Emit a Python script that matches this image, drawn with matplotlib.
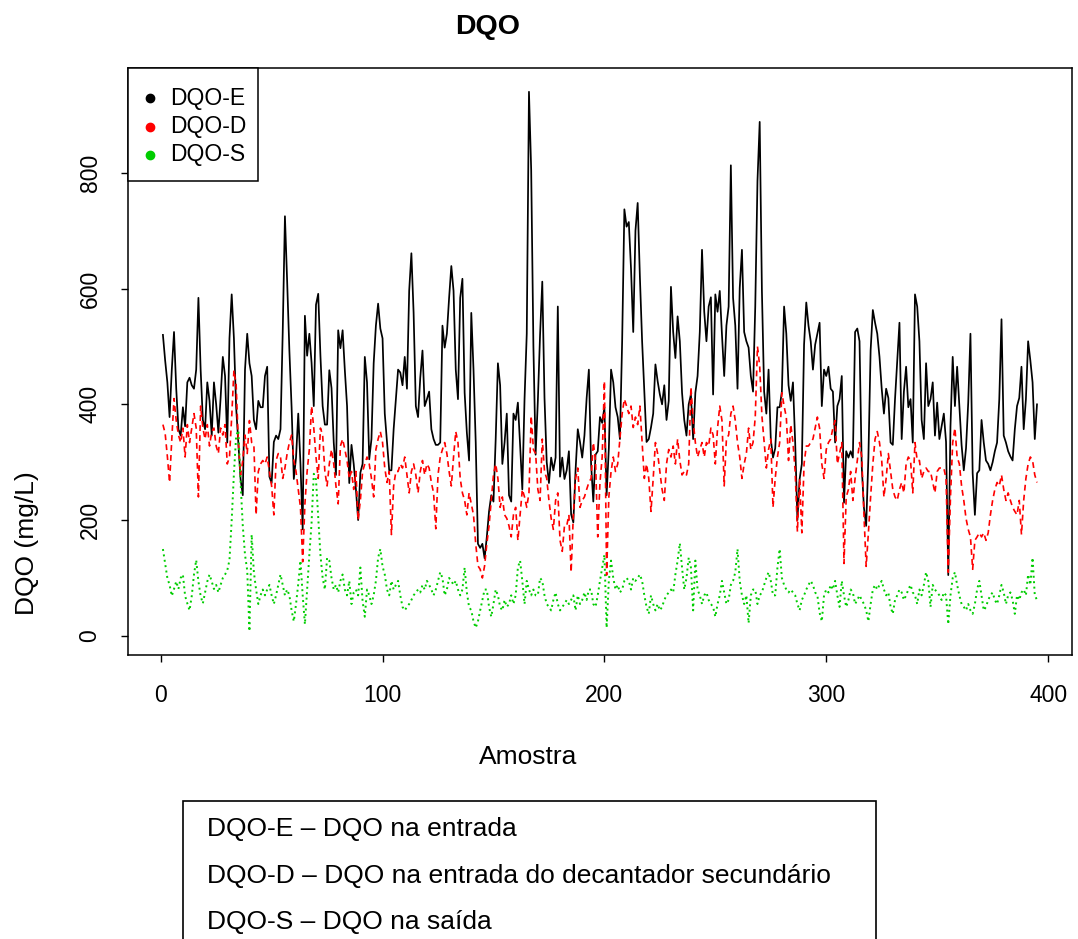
import matplotlib
matplotlib.use('Agg')
import matplotlib.pyplot as plt
from matplotlib.patches import Rectangle
import numpy as np

plt.rcParams['font.family'] = ['Liberation Sans', 'DejaVu Sans']

# DQO na entrada (DQO-E)
dqo_e = [
    520, 476, 438, 378, 460, 525, 427, 357, 346, 395,
    362, 438, 446, 433, 427, 460, 584, 460, 373, 357,
    438, 406, 346, 438, 400, 351, 411, 482, 449, 334,
    514, 590, 514, 395, 334, 271, 243, 460, 522, 471,
    449, 373, 357, 406, 395, 395, 449, 465, 275, 264,
    335, 346, 340, 357, 525, 725, 612, 493, 395, 271,
    308, 384, 297, 184, 553, 484, 522, 472, 397, 572,
    591, 484, 397, 365, 365, 459, 428, 334, 278, 528,
    497, 528, 459, 397, 264, 330, 297, 253, 200, 282,
    297, 482, 438, 305, 340, 471, 536, 574, 531, 514,
    384, 334, 286, 286, 357, 409, 460, 455, 433, 482,
    427, 596, 661, 558, 397, 378, 446, 493, 397, 409,
    422, 357, 340, 330, 330, 334, 536, 498, 522, 584,
    639, 596, 460, 409, 584, 617, 420, 351, 303, 558,
    460, 334, 159, 152, 159, 134, 171, 215, 243, 232,
    340, 471, 433, 297, 334, 384, 243, 232, 384, 373,
    403, 330, 253, 409, 522, 940, 805, 500, 313, 406,
    520, 612, 411, 300, 264, 308, 286, 308, 569, 275,
    308, 271, 286, 319, 210, 196, 286, 357, 335, 308,
    346, 411, 460, 297, 232, 313, 319, 378, 368, 395,
    243, 324, 460, 438, 395, 378, 340, 509, 737, 707,
    715, 634, 525, 700, 748, 620, 509, 420, 335, 340,
    360, 384, 469, 440, 417, 400, 433, 373, 406, 603,
    525, 480, 552, 509, 420, 373, 346, 400, 417, 340,
    420, 449, 525, 667, 560, 509, 569, 585, 417, 590,
    560, 596, 520, 449, 536, 569, 813, 584, 536, 427,
    601, 667, 525, 509, 498, 449, 422, 569, 786, 888,
    596, 422, 384, 460, 340, 308, 324, 395, 395, 422,
    569, 522, 433, 406, 438, 334, 200, 271, 297, 503,
    576, 536, 509, 460, 503, 522, 541, 397, 460, 449,
    465, 427, 422, 334, 397, 409, 449, 230, 319, 308,
    319, 308, 525, 531, 509, 292, 221, 190, 308, 493,
    563, 541, 522, 482, 427, 384, 427, 411, 334, 330,
    409, 476, 541, 340, 422, 465, 395, 409, 334, 590,
    569, 509, 373, 340, 471, 397, 409, 438, 346, 403,
    340, 362, 384, 335, 105, 362, 482, 397, 465, 397,
    330, 286, 324, 403, 522, 281, 209, 281, 286, 373,
    334, 303, 297, 286, 300, 319, 334, 409, 547, 346,
    334, 319, 310, 303, 357, 397, 411, 465, 357, 409,
    509, 476, 438, 340, 400,
]

# DQO na entrada do decantador secundario (DQO-D)
dqo_d = [
    365, 350, 310, 265, 340, 410, 372, 347, 334, 359,
    309, 365, 334, 359, 384, 359, 240, 397, 359, 340,
    365, 328, 353, 359, 328, 315, 359, 347, 365, 297,
    309, 378, 459, 434, 334, 278, 303, 347, 315, 372,
    334, 330, 209, 284, 297, 303, 297, 309, 284, 259,
    209, 303, 315, 309, 272, 290, 315, 334, 347, 303,
    284, 253, 222, 128, 228, 284, 322, 397, 359, 309,
    272, 359, 347, 284, 259, 297, 322, 297, 259, 228,
    328, 340, 322, 303, 272, 284, 253, 284, 200, 234,
    284, 297, 309, 297, 272, 240, 322, 340, 353, 334,
    290, 265, 284, 175, 259, 284, 284, 297, 290, 309,
    278, 247, 284, 297, 278, 247, 284, 303, 278, 297,
    290, 265, 247, 185, 278, 309, 322, 334, 315, 284,
    259, 309, 353, 334, 272, 247, 234, 209, 247, 228,
    209, 159, 121, 115, 100, 121, 159, 190, 234, 278,
    297, 272, 222, 240, 209, 203, 190, 171, 209, 222,
    165, 209, 253, 240, 222, 247, 380, 322, 315, 253,
    234, 340, 284, 272, 234, 203, 184, 234, 247, 165,
    146, 190, 190, 209, 110, 209, 272, 290, 222, 234,
    240, 253, 265, 272, 334, 303, 171, 265, 309, 440,
    105, 240, 284, 309, 284, 297, 340, 384, 409, 397,
    384, 397, 360, 378, 365, 397, 334, 272, 297, 272,
    215, 272, 334, 315, 284, 253, 234, 297, 322, 309,
    328, 297, 340, 303, 278, 284, 278, 297, 430, 372,
    334, 309, 322, 334, 309, 334, 328, 359, 347, 297,
    359, 397, 372, 259, 340, 347, 384, 397, 372, 334,
    309, 272, 297, 315, 359, 322, 334, 378, 500, 466,
    380, 334, 290, 322, 340, 222, 272, 309, 334, 420,
    397, 378, 303, 365, 334, 284, 180, 272, 178, 297,
    328, 328, 334, 340, 359, 378, 359, 297, 272, 322,
    334, 340, 359, 372, 297, 315, 334, 125, 240, 253,
    284, 234, 272, 303, 334, 309, 209, 120, 178, 240,
    297, 340, 353, 334, 303, 240, 272, 315, 284, 253,
    240, 234, 253, 265, 247, 297, 309, 303, 247, 334,
    303, 303, 272, 284, 290, 284, 284, 265, 247, 284,
    290, 290, 290, 272, 110, 240, 334, 359, 309, 297,
    259, 234, 203, 184, 171, 115, 165, 171, 178, 171,
    178, 165, 178, 209, 234, 253, 265, 259, 278, 253,
    234, 247, 234, 222, 215, 209, 234, 175, 234, 272,
    297, 309, 303, 278, 265,
]

# DQO na saida (DQO-S)
dqo_s = [
    150, 125, 100, 88, 69, 81, 94, 81, 100, 106,
    69, 56, 44, 69, 106, 131, 94, 69, 56, 75,
    94, 106, 94, 81, 88, 75, 88, 100, 106, 113,
    131, 200, 280, 345, 355, 265, 190, 140, 113, 8,
    175, 110, 80, 55, 70, 80, 70, 80, 88, 70,
    55, 70, 88, 106, 88, 70, 80, 70, 44, 25,
    55, 90, 130, 70, 20, 80, 140, 195, 280, 270,
    205, 140, 100, 80, 135, 130, 100, 80, 88, 75,
    95, 106, 80, 70, 95, 55, 75, 80, 70, 118,
    60, 33, 80, 70, 55, 70, 95, 135, 150, 120,
    106, 80, 70, 95, 80, 88, 95, 70, 50, 44,
    50, 55, 62, 70, 75, 80, 75, 88, 80, 95,
    88, 80, 70, 80, 95, 110, 100, 70, 80, 100,
    95, 88, 95, 80, 70, 80, 118, 75, 50, 44,
    25, 14, 25, 44, 62, 80, 80, 50, 33, 55,
    80, 70, 50, 44, 62, 50, 55, 70, 55, 70,
    118, 130, 95, 55, 95, 80, 70, 80, 70, 70,
    100, 95, 70, 55, 50, 44, 62, 75, 55, 44,
    50, 55, 62, 55, 62, 70, 44, 70, 55, 62,
    75, 62, 80, 80, 55, 50, 70, 95, 118, 140,
    14, 95, 130, 100, 80, 88, 75, 80, 95, 100,
    95, 80, 100, 95, 100, 106, 95, 70, 50, 38,
    70, 55, 44, 55, 44, 50, 62, 70, 75, 80,
    75, 106, 130, 160, 118, 80, 100, 135, 118, 44,
    130, 80, 70, 55, 70, 75, 62, 55, 50, 33,
    55, 70, 95, 75, 55, 62, 88, 95, 110, 150,
    95, 70, 55, 70, 22, 70, 80, 80, 55, 70,
    75, 88, 100, 110, 95, 70, 70, 118, 150, 100,
    88, 80, 75, 80, 75, 70, 55, 44, 62, 70,
    80, 88, 95, 88, 75, 70, 40, 25, 70, 80,
    75, 88, 80, 95, 70, 50, 95, 70, 50, 62,
    80, 75, 55, 62, 70, 62, 55, 44, 25, 55,
    80, 88, 80, 88, 95, 80, 70, 75, 50, 38,
    62, 70, 80, 75, 62, 70, 80, 88, 75, 70,
    55, 80, 70, 88, 110, 95, 50, 88, 80, 75,
    70, 62, 75, 70, 20, 70, 100, 110, 88, 70,
    55, 50, 44, 55, 44, 38, 55, 80, 95, 70,
    44, 50, 62, 70, 75, 62, 55, 70, 88, 75,
    55, 70, 75, 62, 38, 70, 62, 75, 80, 70,
    106, 88, 135, 70, 62,
]

series_labels = ['DQO-E', 'DQO-D', 'DQO-S']
series_colors = ['black', '#FF0000', '#00CD00']
note_lines = ['DQO-E \u2013 DQO na entrada',
              'DQO-D \u2013 DQO na entrada do decantador secund\u00e1rio',
              'DQO-S \u2013 DQO na sa\u00edda']

W, H = 1078, 939
fig = plt.figure(figsize=(W / 100, H / 100), dpi=100)
ax = fig.add_axes([0.1187, 0.3025, 0.8757, 0.625])

x_e = np.arange(1, len(dqo_e) + 1)
x_d = np.arange(1, len(dqo_d) + 1)
x_s = np.arange(1, len(dqo_s) + 1)

ax.plot(x_e, dqo_e, color=series_colors[0], linewidth=1.25, linestyle='-')
ax.plot(x_d, dqo_d, color=series_colors[1], linewidth=1.2, linestyle=(0, (3.5, 2.5)))
ax.plot(x_s, dqo_s, color=series_colors[2], linewidth=1.4, linestyle=(0, (1, 1.8)))

n = len(dqo_e)
ax.set_xlim(1 - 0.04 * (n - 1), n + 0.04 * (n - 1))
ax.set_ylim(-33, 981)
ax.set_xticks([0, 100, 200, 300, 400])
ax.set_yticks([0, 200, 400, 600, 800])
ax.set_yticklabels(['0', '200', '400', '600', '800'], rotation=90, va='center')

ax.tick_params(direction='out', length=5, width=1, labelsize=16.5, colors='black')
ax.tick_params(axis='x', pad=16)
ax.tick_params(axis='y', pad=14)
for sp in ax.spines.values():
    sp.set_linewidth(1.1)

# legend box drawn by hand (pixel positions of the reference)
leg_box = Rectangle((128 / W, 1 - 181 / H), (258 - 128) / W, (181 - 68) / H,
                    transform=fig.transFigure, facecolor='white', edgecolor='black',
                    linewidth=1.1, zorder=5)
fig.add_artist(leg_box)
for i, (lab, col) in enumerate(zip(series_labels, series_colors)):
    yy = 1 - (98 + 28.5 * i) / H
    fig.add_artist(plt.Line2D([150 / W], [yy], marker='o', color=col, markersize=6,
                              linestyle='none', transform=fig.transFigure, zorder=6))
    fig.text(170 / W, yy, lab, ha='left', va='center', fontsize=16.5, zorder=6)

# titles
fig.text(488 / W, 1 - 27 / H, 'DQO', ha='center', va='center', fontsize=20.5, fontweight='bold')
fig.text(528 / W, 1 - 757 / H, 'Amostra', ha='center', va='center', fontsize=19)
fig.text(27 / W, 1 - 543 / H, 'DQO (mg/L)', ha='center', va='center', fontsize=19, rotation=90)

# note box under the chart
box = Rectangle((183 / W, -0.02), (876 - 183) / W, (H - 801) / H + 0.02,
                transform=fig.transFigure, fill=False, edgecolor='black', linewidth=1.2, clip_on=False)
fig.add_artist(box)
for i, line in enumerate(note_lines):
    fig.text(207 / W, 1 - (829 + 46.5 * i) / H, line, ha='left', va='center', fontsize=19)

plt.savefig('out.png', dpi=100)
